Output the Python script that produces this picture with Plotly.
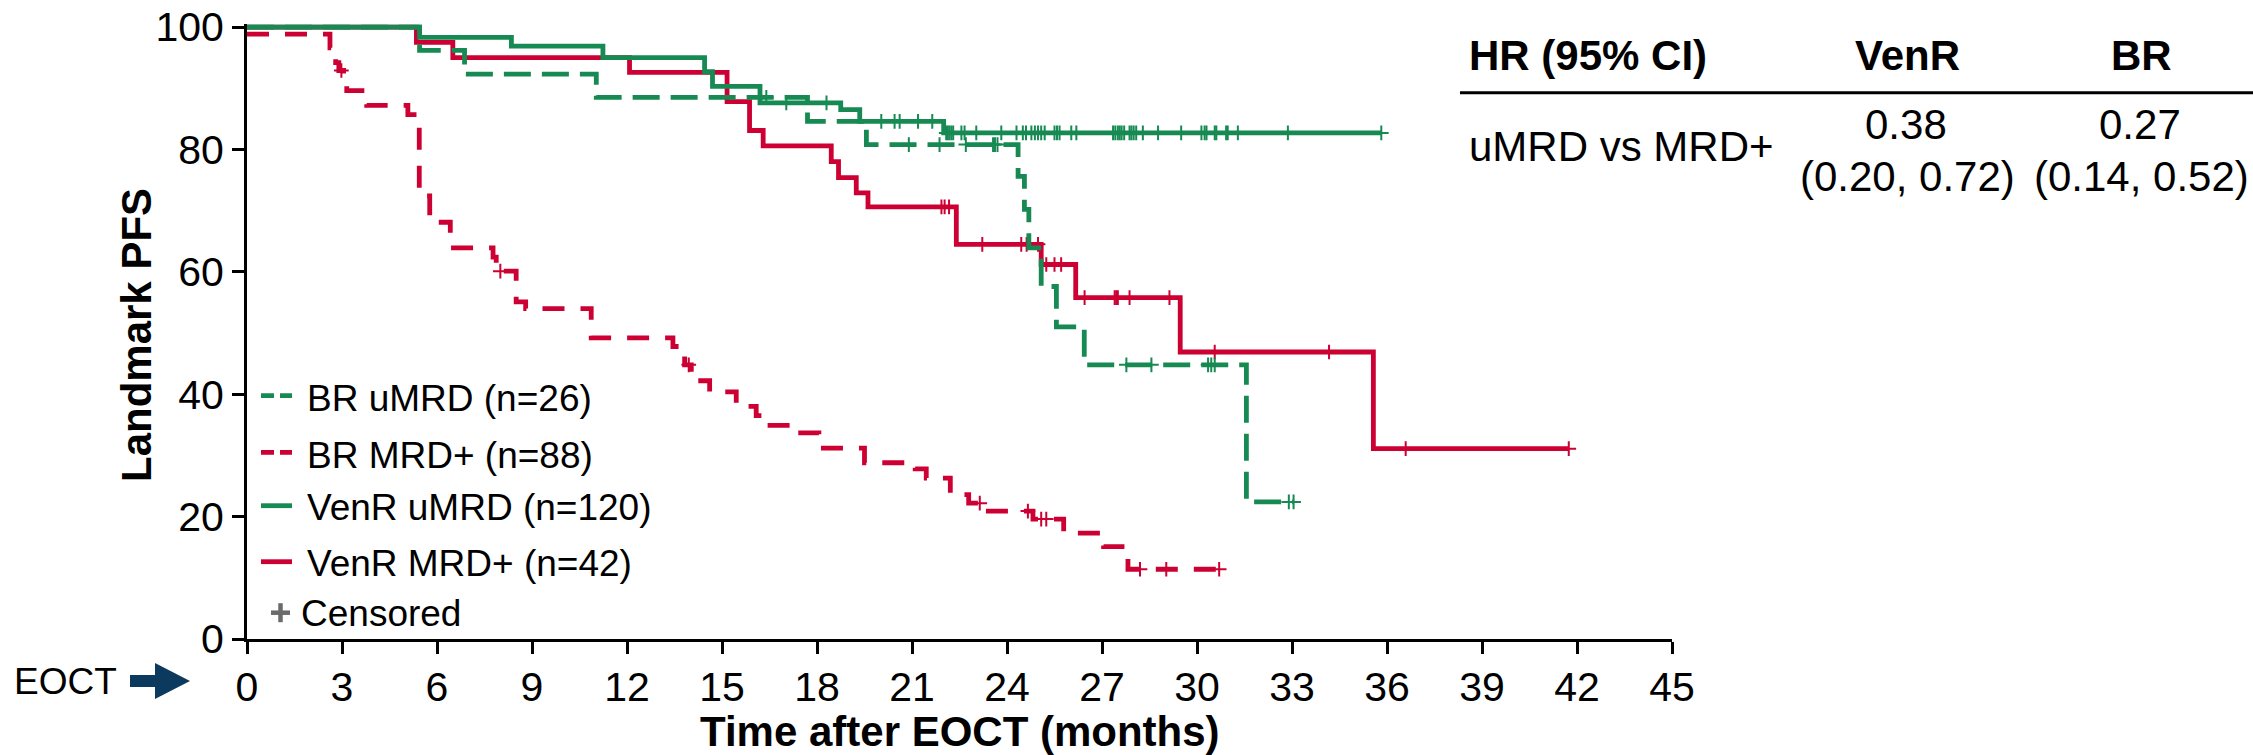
import plotly.graph_objects as go

# ---------------- data ----------------
# Kaplan-Meier step curves: time of each step (months) and survival (%) after it
br_umrd_t = [0, 5.45, 6.87, 11.03, 17.7, 19.56, 24.35, 24.55, 24.69, 25.08, 25.56, 26.44, 31.56]
br_umrd_s = [100, 96.2, 92.3, 88.5, 84.6, 80.8, 75.6, 70.2, 63.9, 57.6, 51.0, 44.8, 22.4]
br_umrd_end = 33.05
br_umrd_cens = [16.4, 20.9, 21.87, 22.7, 23.56, 23.62, 23.7, 27.77, 28.56, 30.35, 30.45, 30.56, 32.9, 33.05]

br_mrdp_t = [0, 2.62, 2.8, 2.9, 3.05, 3.15, 3.78, 5.08, 5.44, 5.77, 6.42, 7.77, 7.87, 8.5, 8.8,
             10.87, 13.45, 13.82, 14.03, 14.61, 15.45, 16.08, 16.27, 17.4, 18.06, 19.5, 21.1,
             21.45, 22.21, 22.79, 23.2, 24.82, 25.79, 27.05, 27.82]
br_mrdp_s = [98.86, 96.6, 94.2, 92.9, 90.9, 89.6, 87.2, 85.7, 72.4, 68.1, 63.9, 62.4, 60.1, 55.1, 54.0,
             49.2, 47.8, 44.8, 42.2, 40.4, 38.0, 36.5, 34.9, 33.7, 31.2, 28.8, 27.8,
             26.3, 23.6, 22.2, 20.9, 19.6, 17.3, 15.1, 11.4]
br_mrdp_end = 30.7
br_mrdp_cens = [2.98, 8.0, 13.95, 23.14, 24.66, 25.08, 25.24, 28.2, 29.03, 30.7]

venr_umrd_t = [0, 5.45, 8.35, 11.24, 14.45, 14.7, 16.2, 18.75, 19.35, 22.0]
venr_umrd_s = [100, 98.3, 96.9, 95.0, 92.7, 90.3, 87.6, 86.5, 84.6, 82.7]
venr_umrd_end = 35.82
venr_umrd_cens = [17.03, 18.3, 20.03, 20.45, 20.61, 21.19, 21.64, 22.08, 22.13, 22.18, 22.24, 22.3,
                  22.56, 22.66, 23.03, 23.82, 24.3, 24.5, 24.6, 24.77, 24.88, 24.98, 25.08, 25.19,
                  25.5, 25.58, 25.66, 26.03, 26.19, 27.35, 27.42, 27.5, 27.56, 27.62, 27.7, 27.87,
                  27.93, 28.0, 28.08, 28.29, 28.77, 29.5, 30.14, 30.24, 30.3, 30.56, 30.61, 30.92,
                  30.97, 31.29, 32.87, 35.82]

venr_mrdp_t = [0, 5.35, 6.5, 12.08, 15.16, 15.87, 16.3, 18.45, 18.68, 19.24, 19.61, 22.4, 25.08,
               26.17, 29.47, 35.57]
venr_mrdp_s = [100, 97.5, 95.0, 92.6, 87.8, 83.1, 80.6, 78.0, 75.4, 72.9, 70.6, 64.5, 61.2,
               55.8, 46.9, 31.1]
venr_mrdp_end = 41.74
venr_mrdp_cens = [21.93, 22.03, 22.17, 23.22, 24.45, 24.62, 24.98, 25.24, 25.5, 25.71, 26.45, 27.4,
                  27.45, 27.5, 27.87, 29.13, 30.56, 34.17, 36.59, 41.74]

legend_labels = ["BR uMRD (n=26)", "BR MRD+ (n=88)", "VenR uMRD (n=120)", "VenR MRD+ (n=42)"]
censored_label = "Censored"

x_ticks = list(range(0, 46, 3))
y_ticks = [0, 20, 40, 60, 80, 100]
x_title = "Time after EOCT (months)"
y_title = "Landmark PFS"
eoct_label = "EOCT"

hr_header = ["HR (95% CI)", "VenR", "BR"]
hr_row_label = "uMRD vs MRD+"
hr_venr = ["0.38", "(0.20, 0.72)"]
hr_br = ["0.27", "(0.14, 0.52)"]

# ---------------- style ----------------
W, H = 2253, 755
L, R, T, B = 247, 581, 24, 116
PW, PH = W - L - R, H - T - B
GREEN = "#168A52"
RED = "#CC0033"
GREY = "#6B6B6B"
NAVY = "#0C3A5E"
FONT = "Liberation Sans, Arial, sans-serif"
LW = 4.8
DASH_GREEN = "27px,11px"
DASH_RED = "22px,16px"
TICK_SIZE = 41


def paper(X, Y):
    """pixel position on the page -> paper coordinates"""
    return (X - L) / PW, (H - B - Y) / PH


def step_value(times, surv, t):
    v = surv[0]
    for ti, si in zip(times, surv):
        if ti <= t:
            v = si
    return v


series = [
    (br_mrdp_t, br_mrdp_s, br_mrdp_end, br_mrdp_cens, RED, DASH_RED),
    (venr_mrdp_t, venr_mrdp_s, venr_mrdp_end, venr_mrdp_cens, RED, "solid"),
    (br_umrd_t, br_umrd_s, br_umrd_end, br_umrd_cens, GREEN, DASH_GREEN),
    (venr_umrd_t, venr_umrd_s, venr_umrd_end, venr_umrd_cens, GREEN, "solid"),
]

fig = go.Figure()
for t, s, end, cens, col, dash in series:
    fig.add_trace(go.Scatter(
        x=t + [end], y=s + [s[-1]], mode="lines",
        line=dict(shape="hv", color=col, width=LW, dash=dash),
        showlegend=False, hoverinfo="skip"))
    fig.add_trace(go.Scatter(
        x=cens, y=[step_value(t, s, c) for c in cens], mode="markers",
        marker=dict(symbol="cross-thin", size=10.5, color=col, line=dict(width=2, color=col)),
        showlegend=False, hoverinfo="skip", cliponaxis=False))

shapes = []
annotations = []

# manual legend
leg_cols = [(GREEN, "13px,6px"), (RED, "13px,6px"), (GREEN, "solid"), (RED, "solid")]
leg_line_y = [395.7, 452.3, 505.7, 561.7]
leg_text_y = [398.3, 455.0, 507.8, 563.0]
for (col, dash), ly, ty, lab in zip(leg_cols, leg_line_y, leg_text_y, legend_labels):
    x0, y0 = paper(261, ly)
    x1, _ = paper(292, ly)
    shapes.append(dict(type="line", xref="paper", yref="paper", x0=x0, x1=x1, y0=y0, y1=y0,
                       line=dict(color=col, width=LW, dash=dash)))
    tx, tyy = paper(305, ty)
    annotations.append(dict(text=lab, xref="paper", yref="paper", x=tx, y=tyy, xanchor="left",
                            yanchor="middle", showarrow=False, font=dict(size=37, color="black", family=FONT)))
# censored marker in legend
cx, cy = 280.5, 612.7
for (ax0, ay0, ax1, ay1) in [(cx - 9.5, cy, cx + 9.5, cy), (cx, cy - 9.5, cx, cy + 9.5)]:
    p0 = paper(ax0, ay0)
    p1 = paper(ax1, ay1)
    shapes.append(dict(type="line", xref="paper", yref="paper", x0=p0[0], y0=p0[1], x1=p1[0], y1=p1[1],
                       line=dict(color=GREY, width=4.5)))
tx, tyy = paper(299, 613)
annotations.append(dict(text=censored_label, xref="paper", yref="paper", x=tx, y=tyy, xanchor="left",
                        yanchor="middle", showarrow=False, font=dict(size=37, color="black", family=FONT)))

# EOCT label and arrow
tx, tyy = paper(12, 681.7)
annotations.append(dict(text=eoct_label, xref="paper", yref="paper", x=tx, y=tyy, xanchor="left",
                        yanchor="middle", showarrow=False, font=dict(size=37, color="black", family=FONT)))
arrow_px = [(130, 675), (155, 675), (155, 663), (190, 681), (155, 699), (155, 687), (130, 687)]
pts = [paper(X, Y) for X, Y in arrow_px]
path = "M" + " L".join(f"{px:.5f},{py:.5f}" for px, py in pts) + " Z"
shapes.append(dict(type="path", xref="paper", yref="paper", path=path, fillcolor=NAVY,
                   line=dict(color=NAVY, width=0)))

# axis titles (placed as text beside the axes)
tx, tyy = paper(137, 335)
annotations.append(dict(text=y_title, xref="paper", yref="paper", x=tx, y=tyy, xanchor="center",
                        yanchor="middle", textangle=-90, showarrow=False,
                        font=dict(size=42, color="black", family=FONT, weight="bold")))
tx, tyy = paper(960, 731)
annotations.append(dict(text=x_title, xref="paper", yref="paper", x=tx, y=tyy, xanchor="center",
                        yanchor="middle", showarrow=False,
                        font=dict(size=42, color="black", family=FONT, weight="bold")))


# HR table
def add_text(txt, X, Y, size=42, bold=False, anchor="center"):
    px_, py_ = paper(X, Y)
    annotations.append(dict(text=txt, xref="paper", yref="paper", x=px_, y=py_, xanchor=anchor,
                            yanchor="middle", showarrow=False,
                            font=dict(size=size, color="black", family=FONT,
                                      weight="bold" if bold else "normal")))

add_text(hr_header[0], 1467, 55, bold=True, anchor="left")
add_text(hr_header[1], 1907, 55, bold=True)
add_text(hr_header[2], 2141, 55, bold=True)
add_text(hr_row_label, 1467, 147, anchor="left")
add_text(hr_venr[0], 1906, 124)
add_text(hr_venr[1], 1907, 176)
add_text(hr_br[0], 2140, 124)
add_text(hr_br[1], 2141, 176)
p0 = paper(1460, 92.7)
p1 = paper(2253, 92.7)
shapes.append(dict(type="line", xref="paper", yref="paper", x0=p0[0], x1=p1[0], y0=p0[1], y1=p1[1],
                   line=dict(color="black", width=3)))

fig.update_layout(
    width=W, height=H,
    margin=dict(l=L, r=R, t=T, b=B, pad=0),
    paper_bgcolor="white", plot_bgcolor="white",
    font=dict(family=FONT, color="black"),
    showlegend=False,
    shapes=shapes, annotations=annotations,
    xaxis=dict(range=[0, 45], tickvals=x_ticks, ticktext=[str(v) for v in x_ticks],
               showline=True, linecolor="black", linewidth=3, ticks="outside", ticklen=12,
               tickwidth=3, tickcolor="black", showgrid=False, zeroline=False,
               ticklabelstandoff=-2,
               tickfont=dict(size=TICK_SIZE, family=FONT, color="black"), automargin=False),
    yaxis=dict(range=[0, 100.5], tickvals=y_ticks, ticktext=[str(v) for v in y_ticks],
               showline=True, linecolor="black", linewidth=3, ticks="outside", ticklen=12,
               tickwidth=3, tickcolor="black", showgrid=False, zeroline=False,
               tickfont=dict(size=TICK_SIZE, family=FONT, color="black"), automargin=False),
)

fig.write_html("out.html")
